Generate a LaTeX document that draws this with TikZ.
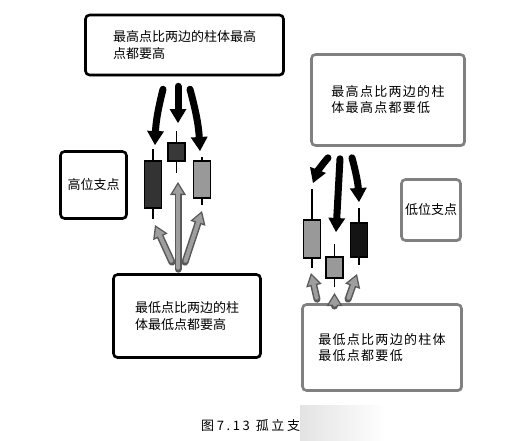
\documentclass[tikz,border=0pt]{standalone}
\usepackage{fontspec}
\setmainfont{Noto Sans CJK SC}
\newfontfamily\widecjk[LetterSpace=10]{Noto Sans CJK SC}
\newfontfamily\capcjk[LetterSpace=20]{Noto Sans CJK SC}
\usetikzlibrary{arrows.meta,calc,shadows}
\tikzstyle{darkbox}=[draw=black,line width=2.6pt,rounded corners=4pt,fill=white,align=left,
	drop shadow={opacity=0.45,shadow xshift=1.3pt,shadow yshift=-1.3pt},font=\fontsize{13}{17}\selectfont]
\tikzstyle{greybox}=[darkbox,draw=gray,font=\widecjk\fontsize{13}{16}\selectfont]
\tikzstyle{candlebody}=[draw=black,line width=1.4pt,minimum width=17,inner sep=0pt]
\tikzstyle{wick}=[draw=black,line width=1.4pt]
\tikzstyle{pusharrow}=[draw=black,line width=7pt,line cap=round,-{Triangle[length=14pt,width=17pt,line width=0pt]}]
\tikzstyle{liftouter}=[draw=black!65,line width=7pt,line cap=round,-{Triangle[length=13pt,width=16pt,line width=0pt]}]
\tikzstyle{liftinner}=[draw=black!38,line width=4pt,line cap=round,shorten >=2.6pt,shorten <=1.5pt,
	-{Triangle[length=9pt,width=11pt,line width=0pt]}]
\newcommand{\drawcandle}[7]{% name, x, wick top, body top, body bottom, wick bottom, fill
	\coordinate (#1-top) at (#2,#3);
	\coordinate (#1-bot) at (#2,#6);
	\draw[wick] (#1-top) -- (#1-bot);
	\node[candlebody,fill=#7,minimum height={#5-#4}] (#1) at (#2,{(#4+#5)/2}) {};
}
\newcommand{\liftarrow}[3]{% start, tip, bend
	\draw[liftouter] #1 to[bend left=#3] #2;
	\draw[liftinner] #1 to[bend left=#3] #2;
}
\begin{document}
\begin{tikzpicture}[x=1pt,y=-1pt]
	\fill[white] (0,0) rectangle (517,440);
	\useasboundingbox (0,0) rectangle (517,440);
	% boxes
	\node[darkbox,minimum width=198,minimum height=60] (hitop) at (184.5,45) {最高点比两边的柱体最高\\点都要高};
	\node[darkbox,minimum width=66,minimum height=67] (hilabel) at (93.5,185) {高位支点};
	\node[darkbox,minimum width=147,minimum height=83] (hibot) at (187,316) {最低点比两边的柱\\体最低点都要高};
	\node[greybox,minimum width=153,minimum height=91] (lotop) at (388,100) {最高点比两边的柱\\体最高点都要低};
	\node[darkbox,draw=gray,minimum width=59,minimum height=61] (lolabel) at (431,210) {低位支点};
	\node[greybox,minimum width=159,minimum height=86] (lobot) at (382,347.5) {最低点比两边的柱体\\最低点都要低};
	% candles
	\drawcandle{h1}{153}{149}{161}{208}{219}{black!80}
	\drawcandle{h2}{176.5}{131}{143}{161}{173}{black!78}
	\drawcandle{h3}{202}{157}{161}{198}{205}{black!40}
	\drawcandle{l1}{312}{189}{220}{258}{268}{black!40}
	\drawcandle{l2}{334.5}{244}{257}{278}{287}{black!40}
	\drawcandle{l3}{359}{208}{223}{257}{265}{black!92}
	% arrows to the high point
	\draw[pusharrow] ($(hitop.south)+(-21.5,13)$) to[bend right=6] ($(h1-top)+(2,-4)$);
	\draw[pusharrow] ($(hitop.south)+(-6.5,10)$) -- ($(h2-top)+(1.5,-8)$);
	\draw[pusharrow] ($(hitop.south)+(5.5,13)$) to[bend left=6] ($(h3-top)+(-2,-6)$);
	\liftarrow{($(hibot.north)+(-15,-11)$)}{($(h1-bot)+(2,6)$)}{0}
	\liftarrow{($(hibot.north)+(-9,-4)$)}{($(h2-bot)+(1.5,9)$)}{0}
	\liftarrow{($(hibot.north)+(-2,-11)$)}{($(h3-bot)+(0,6)$)}{0}
	% arrows to the low point
	\draw[pusharrow] ($(lotop.south)+(-60,11)$) to[bend right=10] ($(l1-top)+(1,-6)$);
	\draw[pusharrow] ($(lotop.south)+(-48,12)$) -- ($(l2-top)+(1.5,-12)$);
	\draw[pusharrow] ($(lotop.south)+(-36,11)$) to[bend left=6] ($(l3-top)+(0,-6)$);
	\liftarrow{($(lobot.north)+(-65,-4)$)}{($(l1-bot)+(-1,5)$)}{0}
	\liftarrow{($(lobot.north)+(-47.5,0)$)}{($(l2-bot)+(0,6)$)}{0}
	\liftarrow{($(lobot.north)+(-34,-4)$)}{($(l3-bot)+(-2,9)$)}{0}
	% caption
	\node[anchor=west,font=\capcjk\fontsize{13}{15}\selectfont,inner sep=0pt] (caption) at (201,426) {图7.13\hspace{6pt}孤立支};
	\shade[left color=gray!22,right color=white] (300,405) rectangle (385,440);
\end{tikzpicture}
\end{document}
